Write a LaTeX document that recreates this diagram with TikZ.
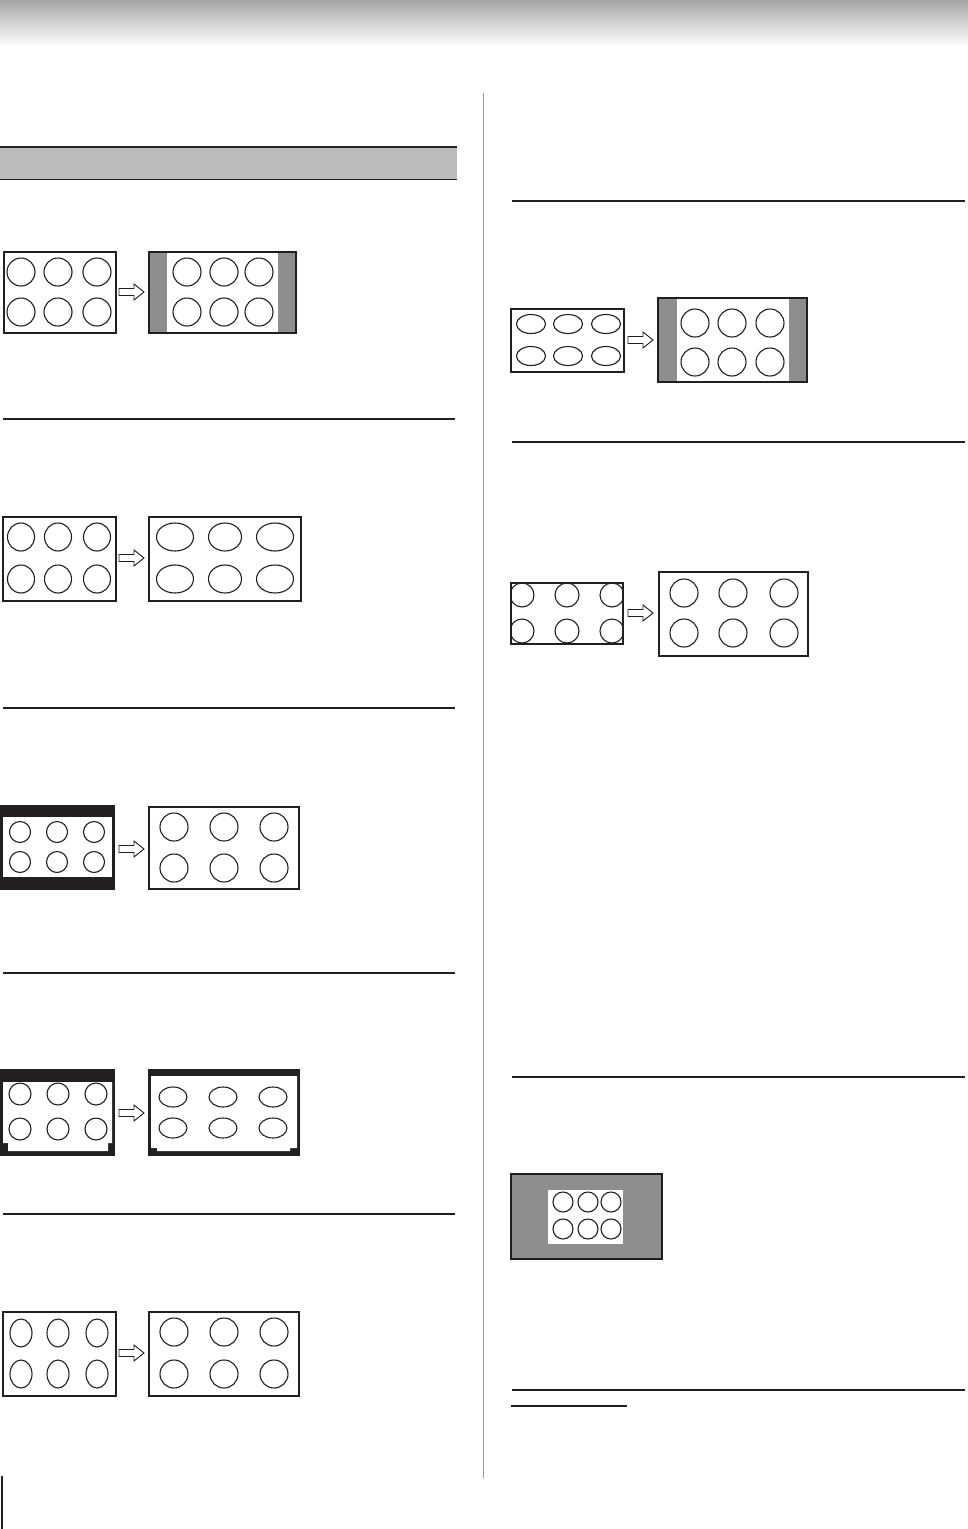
\documentclass[tikz,border=0pt]{standalone}
\usepackage{tikz}
\definecolor{bargray}{RGB}{140,143,142}
\definecolor{headgray}{RGB}{187,187,187}
\definecolor{topgray}{RGB}{166,166,166}
\definecolor{ink}{RGB}{35,31,32}
\tikzset{
  screen/.style={draw=ink,line width=2.4pt,fill=white},
  ring/.style={draw=ink,line width=1.1pt},
  sidebar/.style={fill=bargray},
  rule/.style={draw=ink,line width=1.1pt},
  fatarr/.pic={\draw[draw=ink,line width=0.9pt,fill=white] (0,-3.5) -- (15,-3.5) -- (15,-8) -- (25,0) -- (15,8) -- (15,3.5) -- (0,3.5) -- cycle;}
}
\begin{document}
\begin{tikzpicture}[x=1pt,y=-1pt]
\useasboundingbox (0,0) rectangle (968,1529);
% header gradient
\shade[top color=topgray,bottom color=white] (0,0) rectangle (968,46);
% column divider
\draw[draw=gray!80,line width=1pt] (483,93) -- (483,1478);
\draw[draw=ink,line width=2.2pt] (2,1476) -- (2,1529);
% section header bar
\fill[headgray] (0,147) rectangle (457,179);
\draw[draw=ink,line width=2pt] (0,147) -- (457,147);
\draw[draw=ink,line width=1.6pt] (0,179.5) -- (457,179.5);
% rules left
\foreach \yy in {419,708,973,1214} \draw[rule] (3,\yy) -- (455,\yy);
% rules right
\foreach \yy in {201,442,1077,1390} \draw[rule] (512,\yy) -- (965,\yy);
\draw[rule] (511,1406) -- (627,1406);

% ===== Panel L1 =====
\draw[screen] (4,252) rectangle (116,333);
\foreach \cx in {21,58,97} \foreach \cy in {272,312} \draw[ring] (\cx,\cy) ellipse [x radius=14,y radius=14];
\pic at (119,292) {fatarr};
\fill[white] (148,251) rectangle (297,334);
\fill[sidebar] (148,251) rectangle (167,334);
\fill[sidebar] (278,251) rectangle (297,334);
\foreach \cx in {187,224,259} \foreach \cy in {272,312} \draw[ring] (\cx,\cy) ellipse [x radius=14,y radius=14];
\draw[screen,fill=none] (149,252) rectangle (296,333);

% ===== Panel L2 =====
\draw[screen] (3,517) rectangle (116,601);
\foreach \cx in {21,58,97} \foreach \cy in {537,579} \draw[ring] (\cx,\cy) ellipse [x radius=13.5,y radius=14];
\pic at (119,558) {fatarr};
\draw[screen] (149,517) rectangle (301,601);
\foreach \cx in {175,275} \foreach \cy in {537,579} \draw[ring] (\cx,\cy) ellipse [x radius=18.5,y radius=14];
\foreach \cy in {537,579} \draw[ring] (225,\cy) ellipse [x radius=16.5,y radius=14];

% ===== Panel L3 =====
\fill[ink] (0,805) rectangle (115,890);
\fill[white] (3,817) rectangle (112,877);
\foreach \cx in {20,57,94} \foreach \cy in {832,862} \draw[ring] (\cx,\cy) ellipse [x radius=10.5,y radius=10.5];
\pic at (119,849) {fatarr};
\draw[screen] (149,807) rectangle (299,889);
\foreach \cx in {174,224,274} \foreach \cy in {827,868} \draw[ring] (\cx,\cy) ellipse [x radius=14,y radius=14];

% ===== Panel L4 =====
\fill[ink] (0,1069) rectangle (115,1156);
\fill[white] (3,1082) -- (112,1082) -- (112,1143) -- (108,1143) -- (108,1151) -- (8,1151) -- (8,1143) -- (3,1143) -- cycle;
\foreach \cx in {20,58,96} \foreach \cy in {1094,1129} \draw[ring] (\cx,\cy) ellipse [x radius=11,y radius=11];
\pic at (119,1113) {fatarr};
\fill[ink] (148,1069) rectangle (300,1156);
\fill[white] (151,1076) -- (297,1076) -- (297,1148) -- (290,1148) -- (290,1151) -- (157,1151) -- (157,1148) -- (151,1148) -- cycle;
\foreach \cx in {173,223,273} \foreach \cy in {1097,1128} \draw[ring] (\cx,\cy) ellipse [x radius=14,y radius=10];

% ===== Panel L5 =====
\draw[screen] (3,1312) rectangle (116,1396);
\foreach \cx in {21,58,97} \foreach \cy in {1333,1374} \draw[ring] (\cx,\cy) ellipse [x radius=11,y radius=14];
\pic at (119,1353) {fatarr};
\draw[screen] (149,1312) rectangle (299,1396);
\foreach \cx in {174,224,274} \foreach \cy in {1332,1374} \draw[ring] (\cx,\cy) ellipse [x radius=14,y radius=14];

% ===== Panel R1 =====
\draw[screen] (511,309) rectangle (624,372);
\foreach \cx in {531,568,606} \foreach \cy in {324,356} \draw[ring] (\cx,\cy) ellipse [x radius=14.5,y radius=9.5];
\pic at (628,340) {fatarr};
\fill[white] (657,297) rectangle (808,383);
\fill[sidebar] (657,297) rectangle (677,383);
\fill[sidebar] (789,297) rectangle (808,383);
\foreach \cx in {695,732,770} \foreach \cy in {323,362} \draw[ring] (\cx,\cy) ellipse [x radius=14,y radius=14];
\draw[screen,fill=none] (658,298) rectangle (807,382);

% ===== Panel R2 =====
\fill[white] (511,583) rectangle (623,644);
\begin{scope}
\clip (511,583) rectangle (623,644);
\foreach \cx in {522,567,612} \foreach \cy in {595,631} \draw[ring] (\cx,\cy) ellipse [x radius=12,y radius=12];
\end{scope}
\draw[screen,fill=none,line width=2pt] (511,583) rectangle (623,644);
\pic at (628,613) {fatarr};
\draw[screen] (659,572) rectangle (808,656);
\foreach \cx in {684,733,784} \foreach \cy in {593,633} \draw[ring] (\cx,\cy) ellipse [x radius=14,y radius=14];

% ===== Panel R3 =====
\draw[screen,fill=bargray] (511,1174) rectangle (662,1259);
\fill[white] (548,1190) rectangle (623,1244);
\foreach \cx in {563,588,611} \foreach \cy in {1202,1229} \draw[ring] (\cx,\cy) ellipse [x radius=10,y radius=10];
\end{tikzpicture}
\end{document}
